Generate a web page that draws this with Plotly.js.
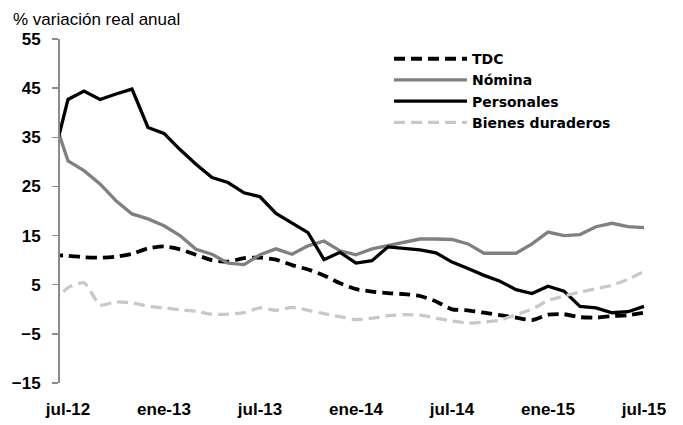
<!DOCTYPE html>
<html>
<head>
<meta charset="utf-8">
<script src="https://cdn.plot.ly/plotly-3.0.1.min.js"></script>
<style>
html,body{margin:0;padding:0;background:#fff;}
#chart{width:683px;height:425px;}
</style>
</head>
<body>
<div id="chart"></div>
<script>
// Months (first month jun-12 is clipped by the axis start, as in the original)
var months = ["jun-12","jul-12","ago-12","sep-12","oct-12","nov-12","dic-12",
  "ene-13","feb-13","mar-13","abr-13","may-13","jun-13","jul-13","ago-13","sep-13","oct-13","nov-13","dic-13",
  "ene-14","feb-14","mar-14","abr-14","may-14","jun-14","jul-14","ago-14","sep-14","oct-14","nov-14","dic-14",
  "ene-15","feb-15","mar-15","abr-15","may-15","jun-15","jul-15"];

var tdc = [11.0, 10.9,10.6,10.5,10.7,11.3,12.4,12.8,12.2,11.1,10.0,
  9.7,10.4,10.5,10.1,9.0,8.1,6.9,5.3,4.1,3.6,
  3.3,3.1,2.7,1.6,0.0,-0.2,-0.7,-1.2,-1.7,-2.2,
  -1.1,-1.0,-1.6,-1.7,-1.4,-1.2,-0.7];

var nomina = [39.9, 30.2,28.2,25.5,22.1,19.4,18.4,17.0,15.0,12.2,11.2,
  9.4,9.1,11.1,12.3,11.2,12.9,13.9,11.9,11.1,12.3,
  13.0,13.7,14.3,14.3,14.2,13.3,11.4,11.4,11.4,13.3,
  15.7,15.0,15.2,16.8,17.5,16.8,16.6];

var personales = [29.7, 42.7,44.4,42.7,43.8,44.8,37.0,35.8,32.5,29.5,26.8,
  25.8,23.7,22.9,19.5,17.6,15.6,10.1,11.6,9.4,9.9,
  12.7,12.4,12.1,11.5,9.6,8.3,6.9,5.7,4.0,3.2,
  4.7,3.7,0.6,0.3,-0.7,-0.5,0.6];

var bienes = [1.0, 4.4,5.4,0.9,1.5,1.3,0.6,0.3,-0.1,-0.4,-1.0,
  -1.0,-0.7,0.3,-0.2,0.4,-0.2,-0.9,-1.5,-2.1,-1.8,
  -1.3,-1.1,-1.2,-1.8,-2.4,-2.8,-2.6,-2.2,-1.1,0.0,
  1.8,2.7,3.5,4.2,4.9,6.1,7.7];

var tickLabels = ["jul-12","ene-13","jul-13","ene-14","jul-14","ene-15","jul-15"];
var yTicks = [-15,-5,5,15,25,35,45,55];

var FONT = "'Liberation Sans', Arial, sans-serif";
var LEGFONT = "'DejaVu Sans', 'Liberation Sans', Arial, sans-serif";

var xIdx = months.map(function(m, i){ return i; });
var labelIdx = tickLabels.map(function(t){ return months.indexOf(t); });
var boundaryIdx = labelIdx.map(function(i){ return i - 0.5; });
var xRange = [labelIdx[0] - 0.5, months.length - 1 + 0.375];

var traces = [
  {x: xIdx, y: tdc, name: "TDC", type: "scatter", mode: "lines",
   line: {color: "#000000", width: 3.8, dash: "11px,6px", shape: "spline", smoothing: 0.6}},
  {x: xIdx, y: nomina, name: "Nómina", type: "scatter", mode: "lines",
   line: {color: "#808080", width: 3.3}},
  {x: xIdx, y: personales, name: "Personales", type: "scatter", mode: "lines",
   line: {color: "#000000", width: 3.3}},
  {x: xIdx, y: bienes, name: "Bienes duraderos", type: "scatter", mode: "lines",
   line: {color: "#c8c8c8", width: 3.3, dash: "11px,6px", shape: "spline", smoothing: 0.6}}
];

var layout = {
  width: 683, height: 425,
  margin: {l: 60, r: 33, t: 39, b: 42},
  paper_bgcolor: "#ffffff", plot_bgcolor: "#ffffff",
  hovermode: false,
  showlegend: true,
  legend: {
    x: 0.5576, y: 0.988, xanchor: "left", yanchor: "top",
    bgcolor: "rgba(0,0,0,0)", itemwidth: 73, tracegroupgap: 0,
    font: {family: LEGFONT, size: 14, color: "#000", weight: "bold"}
  },
  xaxis: {
    range: xRange, type: "linear",
    tickmode: "array", tickvals: labelIdx, ticktext: tickLabels,
    showline: false, showgrid: false, zeroline: false, ticks: "",
    tickfont: {family: FONT, size: 17, color: "#000", weight: "bold"},
    ticklabelstandoff: 14, fixedrange: true
  },
  xaxis2: {
    range: xRange, type: "linear", overlaying: "x", anchor: "free",
    position: 15/70, side: "bottom",
    tickmode: "array", tickvals: boundaryIdx, showticklabels: false,
    showline: true, linecolor: "#999999", linewidth: 1.5,
    ticks: "outside", ticklen: 6, tickwidth: 1.5, tickcolor: "#999999",
    showgrid: false, zeroline: false, layer: "below traces", fixedrange: true
  },
  yaxis: {
    range: [-15, 55], tickmode: "array", tickvals: yTicks,
    showline: true, linecolor: "#8c8c8c", linewidth: 2,
    ticks: "outside", ticklen: 6, tickwidth: 1.5, tickcolor: "#8c8c8c",
    showgrid: false, zeroline: false,
    tickfont: {family: FONT, size: 17, color: "#000", weight: "bold"},
    ticklabelstandoff: 8, fixedrange: true
  },
  annotations: [
    {text: "% variación real anual", xref: "paper", yref: "paper",
     x: -0.083, y: 1.0, xanchor: "left", yanchor: "bottom", yshift: 8, showarrow: false,
     font: {family: FONT, size: 17, color: "#000"}}
  ]
};

Plotly.newPlot("chart", traces, layout, {displayModeBar: false, staticPlot: true});
</script>
</body>
</html>
